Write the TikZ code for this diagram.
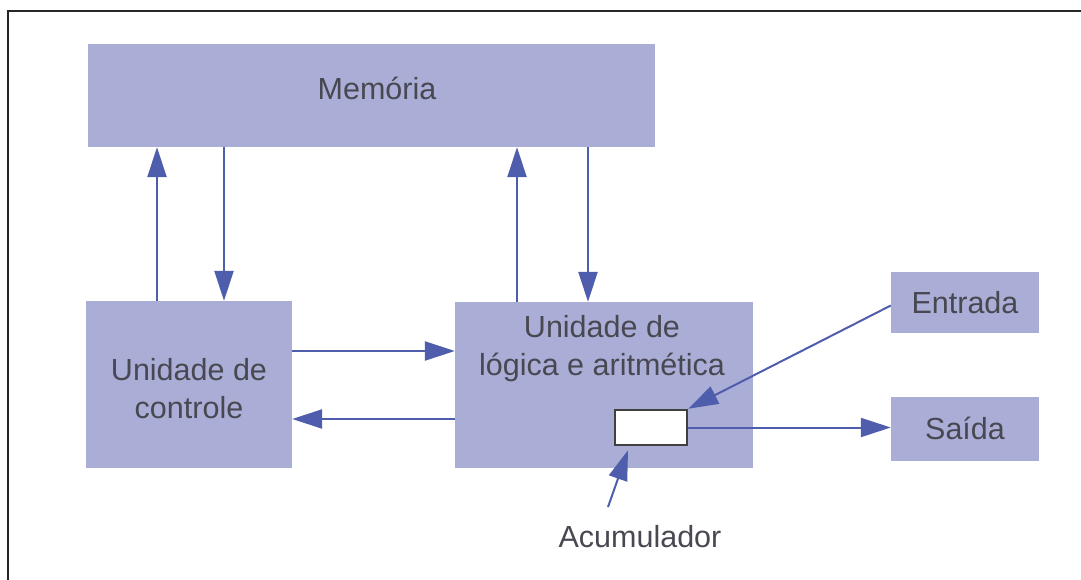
\documentclass[tikz,border=0pt]{standalone}
\usepackage{fontspec}
\setmainfont{Liberation Sans}
\usetikzlibrary{arrows.meta}
\definecolor{boxfill}{RGB}{170,173,213}
\definecolor{linkc}{RGB}{78,94,172}
\definecolor{txtc}{RGB}{72,72,82}
\tikzset{
  unit/.style={fill=boxfill,inner sep=0pt,text=txtc,align=center,
    font=\fontsize{30.5}{38}\selectfont},
  link/.style={draw=linkc,line width=2.5pt,-{Triangle[length=30pt,width=19pt]}},
}
\begin{document}
\begin{tikzpicture}[x=1pt,y=-1pt]
  \useasboundingbox (0,0) rectangle (1081,580);
  \draw[line width=2pt,black!85](1081,11) -- (8,11) -- (8,580);
  % blocks
  \node[unit,minimum width=567pt,minimum height=103pt](mem) at (371.5,95.5) {};
  \node[text=txtc,font=\fontsize{30.5}{38}\selectfont] at (377,88) {Memória};
  \node[unit,minimum width=206pt,minimum height=167pt](ctrl) at (189,384.5) {};
  \node[text=txtc,align=center,font=\fontsize{30.5}{38}\selectfont](ctrltxt)
    at (189,389) {Unidade de\\controle};
  \node[unit,minimum width=298pt,minimum height=166pt](alu) at (604,385) {};
  \node[text=txtc,align=center,font=\fontsize{30.5}{38}\selectfont](alutxt)
    at (602,349) {Unidade de\\lógica e aritmética};
  \node[unit,minimum width=148pt,minimum height=61pt](entr) at (965,302.5) {Entrada};
  \node[unit,minimum width=148pt,minimum height=64pt](sai) at (965,428.5) {Saída};
  \node[draw=black!75,line width=2.5pt,fill=white,minimum width=72pt,
    minimum height=35pt,inner sep=0pt](acc) at (651,427.5) {};
  \node[text=txtc,font=\fontsize{30.5}{38}\selectfont](acum) at (640,537) {Acumulador};
  \coordinate (acumpt) at (608,507);
  % links
  \draw[link]([xshift=-32pt]ctrl.north) -- ([xshift=-32pt]ctrl.north |- mem.south);
  \draw[link]([xshift=35pt]ctrl.north |- mem.south) -- ([xshift=35pt]ctrl.north);
  \draw[link]([xshift=-87pt]alu.north) -- ([xshift=-87pt]alu.north |- mem.south);
  \draw[link]([xshift=-16pt]alu.north |- mem.south) -- ([xshift=-16pt]alu.north);
  \draw[link]([yshift=33.5pt]ctrl.east) -- ([yshift=33.5pt]ctrl.east -| alu.west);
  \draw[link]([yshift=-34.5pt]ctrl.east -| alu.west) -- ([yshift=-34.5pt]ctrl.east);
  \draw[link,line width=2pt]([yshift=-3pt]entr.west) -- (acc.north east);
  \draw[link,line width=2pt](acc.east) -- (acc.east -| sai.west);
  \draw[link,line width=2pt](acumpt) -- ([xshift=-23pt,yshift=-4pt]acc.south);
\end{tikzpicture}
\end{document}
